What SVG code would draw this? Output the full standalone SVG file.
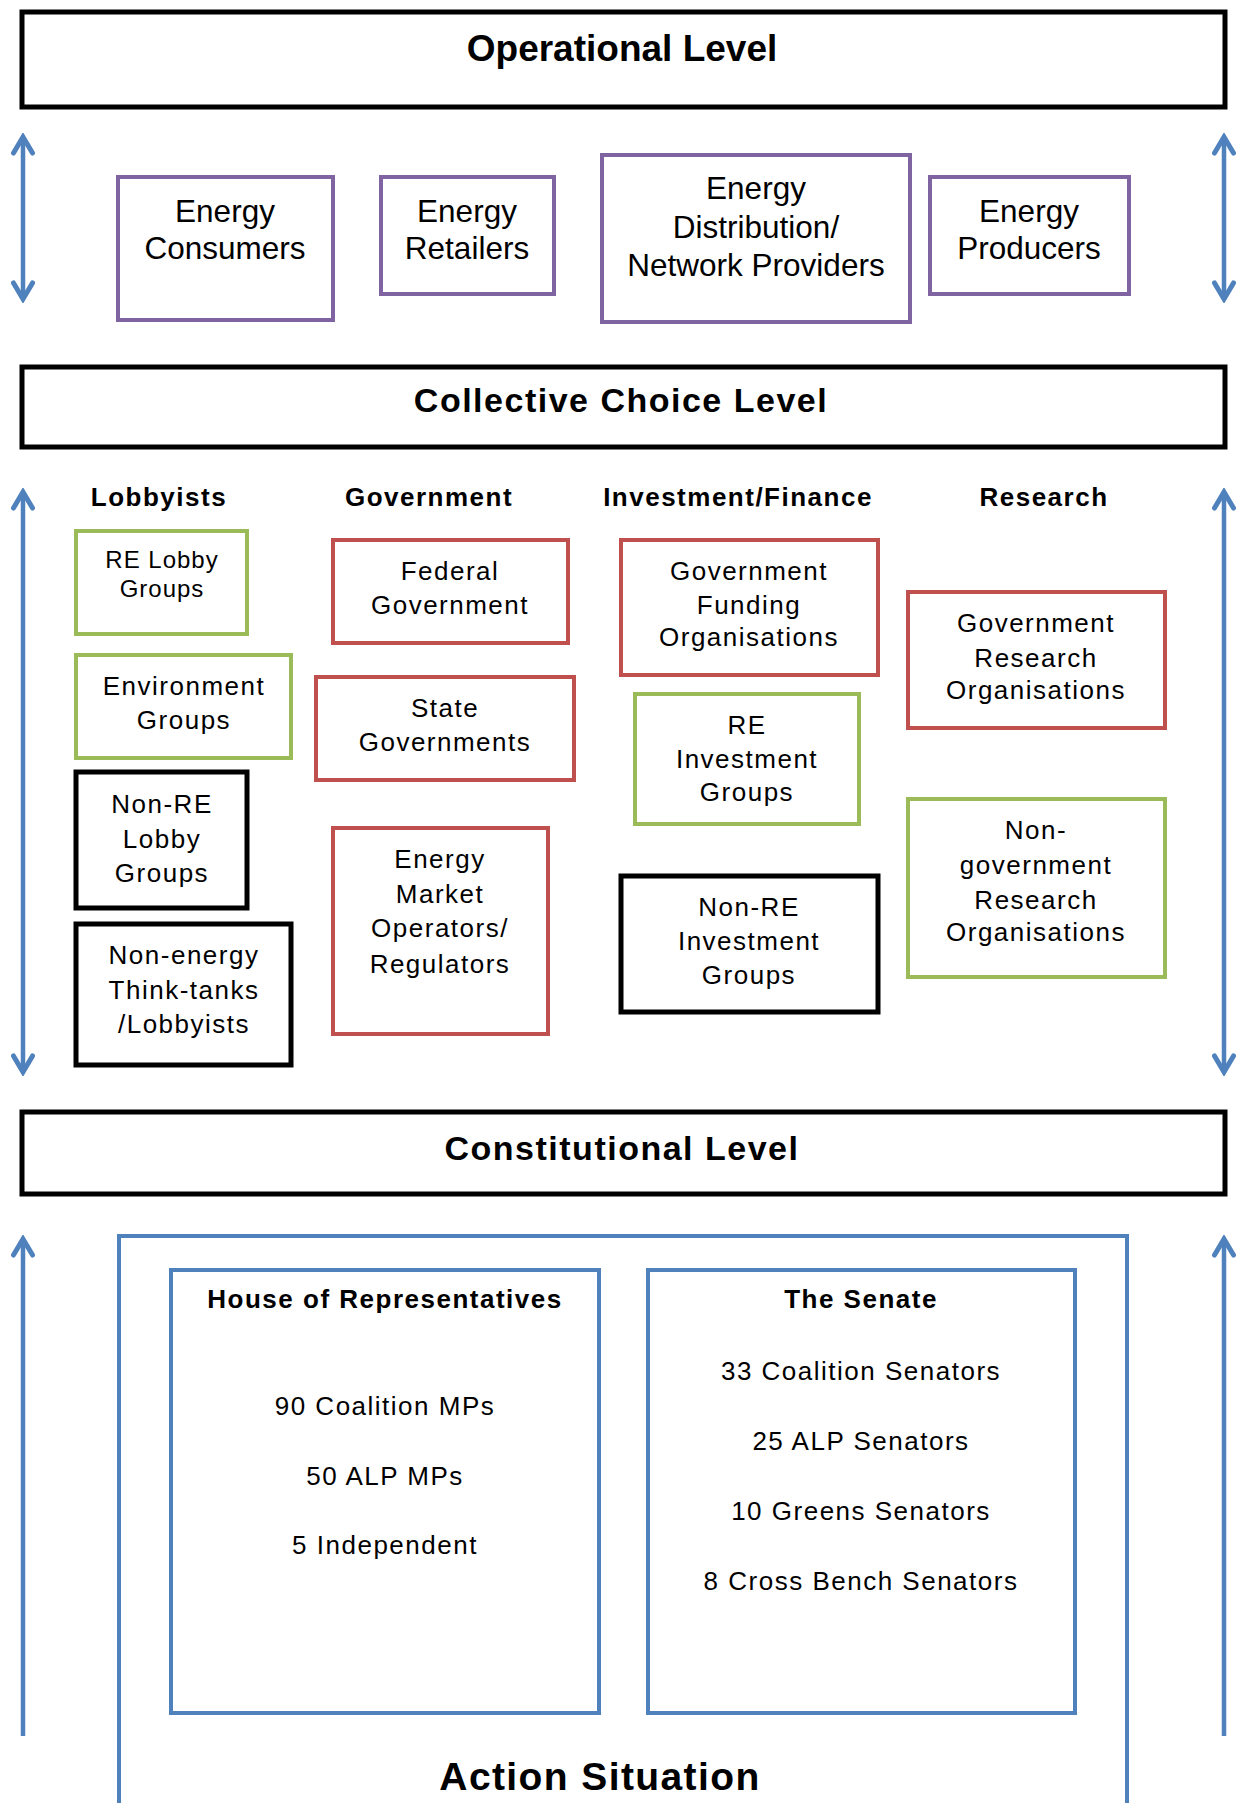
<svg xmlns="http://www.w3.org/2000/svg" width="1236" height="1803" viewBox="0 0 1236 1803">
<style>
.lvl{fill:#fff;stroke:#000;stroke-width:5}
.pur{fill:#fff;stroke:#8064A2;stroke-width:4}
.red{fill:#fff;stroke:#C0504D;stroke-width:4}
.grn{fill:#fff;stroke:#9BBB59;stroke-width:4}
.blk{fill:#fff;stroke:#000;stroke-width:5}
.blu{fill:none;stroke:#4F81BD;stroke-width:4}
.arr{fill:none;stroke:#4F81BD;stroke-width:4.5}
text{font-family:"Liberation Sans",Arial,sans-serif;fill:#000;text-anchor:middle}
.t1{font-size:37px;font-weight:bold}
.t2{font-size:34px;font-weight:bold;letter-spacing:1.5px}
.op{font-size:31.5px}
.hd{font-size:26px;font-weight:bold;letter-spacing:1.5px}
.nd{font-size:26px;letter-spacing:1.5px}
.sm{font-size:24px;letter-spacing:1px}
.as{font-size:39px;font-weight:bold;letter-spacing:1.4px}
</style>
<defs>
<marker id="chev" viewBox="0 0 24 24" refX="20" refY="12" markerWidth="24" markerHeight="24" markerUnits="userSpaceOnUse" orient="auto-start-reverse">
<path d="M4,2.5 L20,12 L4,21.5" fill="none" stroke="#4F81BD" stroke-width="5" stroke-linecap="round" stroke-linejoin="miter"/>
</marker>
</defs>

<g id="operational-level">
<rect class="lvl" x="22" y="12" width="1203" height="95"/>
<text class="t1" x="622" y="61">Operational Level</text>
</g>

<g id="energy-consumers">
<rect class="pur" x="118" y="177" width="215" height="143"/>
<text class="op" x="225" y="222">Energy</text>
<text class="op" x="225" y="259">Consumers</text>
</g>
<g id="energy-retailers">
<rect class="pur" x="381" y="177" width="173" height="117"/>
<text class="op" x="467" y="222">Energy</text>
<text class="op" x="467" y="259">Retailers</text>
</g>
<g id="energy-distribution">
<rect class="pur" x="602" y="155" width="308" height="167"/>
<text class="op" x="756" y="199">Energy</text>
<text class="op" x="756" y="238">Distribution/</text>
<text class="op" x="756" y="276">Network Providers</text>
</g>
<g id="energy-producers">
<rect class="pur" x="930" y="177" width="199" height="117"/>
<text class="op" x="1029" y="222">Energy</text>
<text class="op" x="1029" y="259">Producers</text>
</g>

<g id="collective-choice-level">
<rect class="lvl" x="22" y="367" width="1203" height="80"/>
<text class="t2" x="621" y="412">Collective Choice Level</text>
</g>

<g id="headers">
<text class="hd" x="159" y="506">Lobbyists</text>
<text class="hd" x="429" y="506">Government</text>
<text class="hd" x="738" y="506">Investment/Finance</text>
<text class="hd" x="1044" y="506">Research</text>
</g>

<g id="re-lobby-groups">
<rect class="grn" x="76" y="531" width="171" height="103"/>
<text class="sm" x="162" y="568">RE Lobby</text>
<text class="sm" x="162" y="597">Groups</text>
</g>
<g id="environment-groups">
<rect class="grn" x="76" y="655" width="215" height="103"/>
<text class="nd" x="184" y="695">Environment</text>
<text class="nd" x="184" y="729">Groups</text>
</g>
<g id="non-re-lobby-groups">
<rect class="blk" x="76" y="772" width="171" height="136"/>
<text class="nd" x="162" y="813">Non-RE</text>
<text class="nd" x="162" y="848">Lobby</text>
<text class="nd" x="162" y="882">Groups</text>
</g>
<g id="non-energy-think-tanks">
<rect class="blk" x="76" y="924" width="215" height="141"/>
<text class="nd" x="184" y="964">Non-energy</text>
<text class="nd" x="184" y="999">Think-tanks</text>
<text class="nd" x="184" y="1033">/Lobbyists</text>
</g>

<g id="federal-government">
<rect class="red" x="333" y="540" width="235" height="103"/>
<text class="nd" x="450" y="580">Federal</text>
<text class="nd" x="450" y="614">Government</text>
</g>
<g id="state-governments">
<rect class="red" x="316" y="677" width="258" height="103"/>
<text class="nd" x="445" y="717">State</text>
<text class="nd" x="445" y="751">Governments</text>
</g>
<g id="energy-market-operators">
<rect class="red" x="333" y="828" width="215" height="206"/>
<text class="nd" x="440" y="868">Energy</text>
<text class="nd" x="440" y="903">Market</text>
<text class="nd" x="440" y="937">Operators/</text>
<text class="nd" x="440" y="973">Regulators</text>
</g>

<g id="government-funding-organisations">
<rect class="red" x="621" y="540" width="257" height="135"/>
<text class="nd" x="749" y="580">Government</text>
<text class="nd" x="749" y="614">Funding</text>
<text class="nd" x="749" y="646">Organisations</text>
</g>
<g id="re-investment-groups">
<rect class="grn" x="635" y="694" width="224" height="130"/>
<text class="nd" x="747" y="734">RE</text>
<text class="nd" x="747" y="768">Investment</text>
<text class="nd" x="747" y="801">Groups</text>
</g>
<g id="non-re-investment-groups">
<rect class="blk" x="621" y="876" width="257" height="136"/>
<text class="nd" x="749" y="916">Non-RE</text>
<text class="nd" x="749" y="950">Investment</text>
<text class="nd" x="749" y="984">Groups</text>
</g>

<g id="government-research-organisations">
<rect class="red" x="908" y="592" width="257" height="136"/>
<text class="nd" x="1036" y="632">Government</text>
<text class="nd" x="1036" y="667">Research</text>
<text class="nd" x="1036" y="699">Organisations</text>
</g>
<g id="non-government-research-organisations">
<rect class="grn" x="908" y="799" width="257" height="178"/>
<text class="nd" x="1036" y="839">Non-</text>
<text class="nd" x="1036" y="874">government</text>
<text class="nd" x="1036" y="909">Research</text>
<text class="nd" x="1036" y="941">Organisations</text>
</g>

<g id="constitutional-level">
<rect class="lvl" x="22" y="1112" width="1203" height="82"/>
<text class="t2" x="622" y="1160">Constitutional Level</text>
</g>

<g id="action-situation">
<rect class="blu" x="119" y="1236" width="1008" height="580"/>
<text class="as" x="600" y="1790">Action Situation</text>
</g>
<g id="house-of-representatives">
<rect class="blu" x="171" y="1270" width="428" height="443"/>
<text class="hd" x="385" y="1308">House of Representatives</text>
<text class="nd" x="385" y="1415">90 Coalition MPs</text>
<text class="nd" x="385" y="1485">50 ALP MPs</text>
<text class="nd" x="385" y="1554">5 Independent</text>
</g>
<g id="the-senate">
<rect class="blu" x="648" y="1270" width="427" height="443"/>
<text class="hd" x="861" y="1308">The Senate</text>
<text class="nd" x="861" y="1380">33 Coalition Senators</text>
<text class="nd" x="861" y="1450">25 ALP Senators</text>
<text class="nd" x="861" y="1520">10 Greens Senators</text>
<text class="nd" x="861" y="1590">8 Cross Bench Senators</text>
</g>

<g id="connectors">
<line class="arr" x1="23" y1="137" x2="23" y2="299" marker-start="url(#chev)" marker-end="url(#chev)"/>
<line class="arr" x1="1224" y1="137" x2="1224" y2="299" marker-start="url(#chev)" marker-end="url(#chev)"/>
<line class="arr" x1="23" y1="492" x2="23" y2="1072" marker-start="url(#chev)" marker-end="url(#chev)"/>
<line class="arr" x1="1224" y1="492" x2="1224" y2="1072" marker-start="url(#chev)" marker-end="url(#chev)"/>
<line class="arr" x1="23" y1="1736" x2="23" y2="1239" marker-end="url(#chev)"/>
<line class="arr" x1="1224" y1="1736" x2="1224" y2="1239" marker-end="url(#chev)"/>
</g>
</svg>
